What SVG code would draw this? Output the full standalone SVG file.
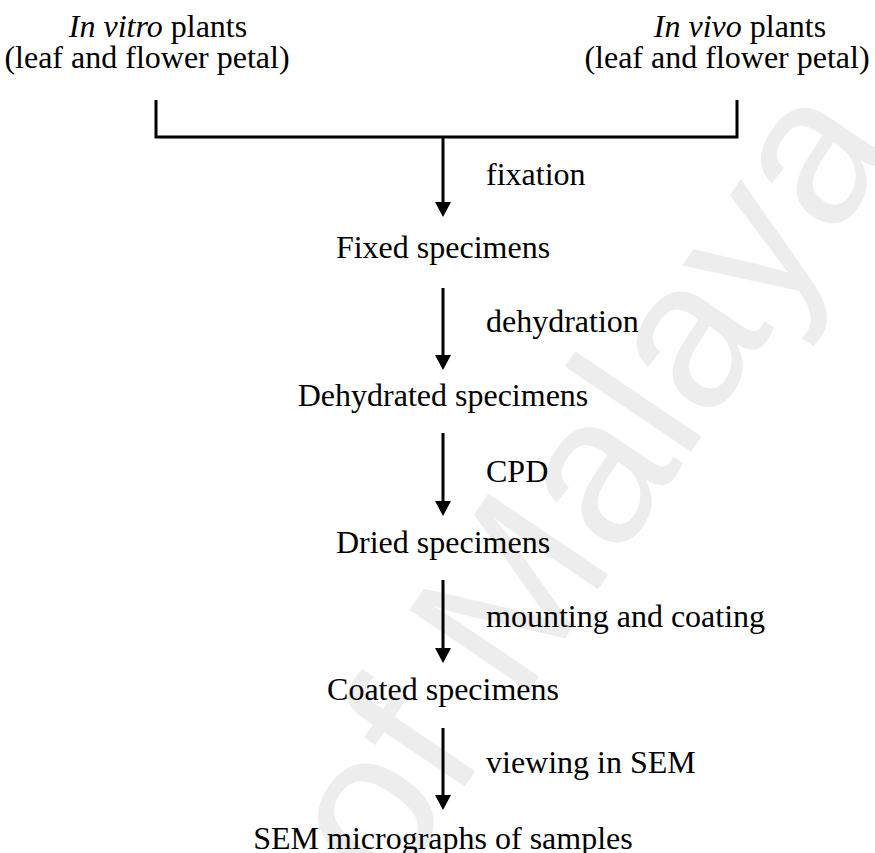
<svg xmlns="http://www.w3.org/2000/svg" width="875" height="853" viewBox="0 0 875 853">
  <defs>
    <marker id="arrow" markerWidth="16" markerHeight="16" refX="3" refY="8" orient="auto" markerUnits="userSpaceOnUse">
      <path d="M0,0 L15,8 L0,16 Z" fill="#000"/>
    </marker>
  </defs>
  <style>
    .t { font-family: "Liberation Serif", "Times New Roman", serif; font-size: 32px; fill: #000; }
    .c { text-anchor: middle; }
    .i { font-style: italic; }
    .ln { stroke: #000; stroke-width: 3; fill: none; }
    .wm { font-family: "Liberation Sans", Arial, sans-serif; font-size: 210px; fill: #ededed; }
  </style>
  <rect width="875" height="853" fill="#fff"/>
  <g id="watermark">
    <text class="wm" transform="translate(520,705) rotate(-56)" x="-1214" y="0">University of Malaya</text>
  </g>
  <g id="connectors">
    <polyline class="ln" points="156,100 156,137 737,137 737,100"/>
    <line class="ln" x1="443" y1="136" x2="443" y2="205" marker-end="url(#arrow)"/>
    <line class="ln" x1="443" y1="288" x2="443" y2="358" marker-end="url(#arrow)"/>
    <line class="ln" x1="443" y1="433" x2="443" y2="504" marker-end="url(#arrow)"/>
    <line class="ln" x1="443" y1="580" x2="443" y2="651" marker-end="url(#arrow)"/>
    <line class="ln" x1="443" y1="728" x2="443" y2="798" marker-end="url(#arrow)"/>
  </g>
  <g id="labels">
    <text class="t" x="486" y="185">fixation</text>
    <text class="t" x="486" y="332">dehydration</text>
    <text class="t" x="486" y="482">CPD</text>
    <text class="t" x="486" y="627">mounting and coating</text>
    <text class="t" x="486" y="773">viewing in SEM</text>
  </g>
  <g id="invitro">
    <text class="t c" x="158" y="37"><tspan class="i">In vitro</tspan> plants</text>
    <text class="t c" x="147" y="68">(leaf and flower petal)</text>
  </g>
  <g id="invivo">
    <text class="t c" x="740" y="37"><tspan class="i">In vivo</tspan> plants</text>
    <text class="t c" x="727" y="68">(leaf and flower petal)</text>
  </g>
  <g id="fixed"><text class="t c" x="443" y="258">Fixed specimens</text></g>
  <g id="dehydrated"><text class="t c" x="443" y="406">Dehydrated specimens</text></g>
  <g id="dried"><text class="t c" x="443" y="553">Dried specimens</text></g>
  <g id="coated"><text class="t c" x="443" y="700">Coated specimens</text></g>
  <g id="sem"><text class="t c" x="443" y="849">SEM micrographs of samples</text></g>
</svg>
